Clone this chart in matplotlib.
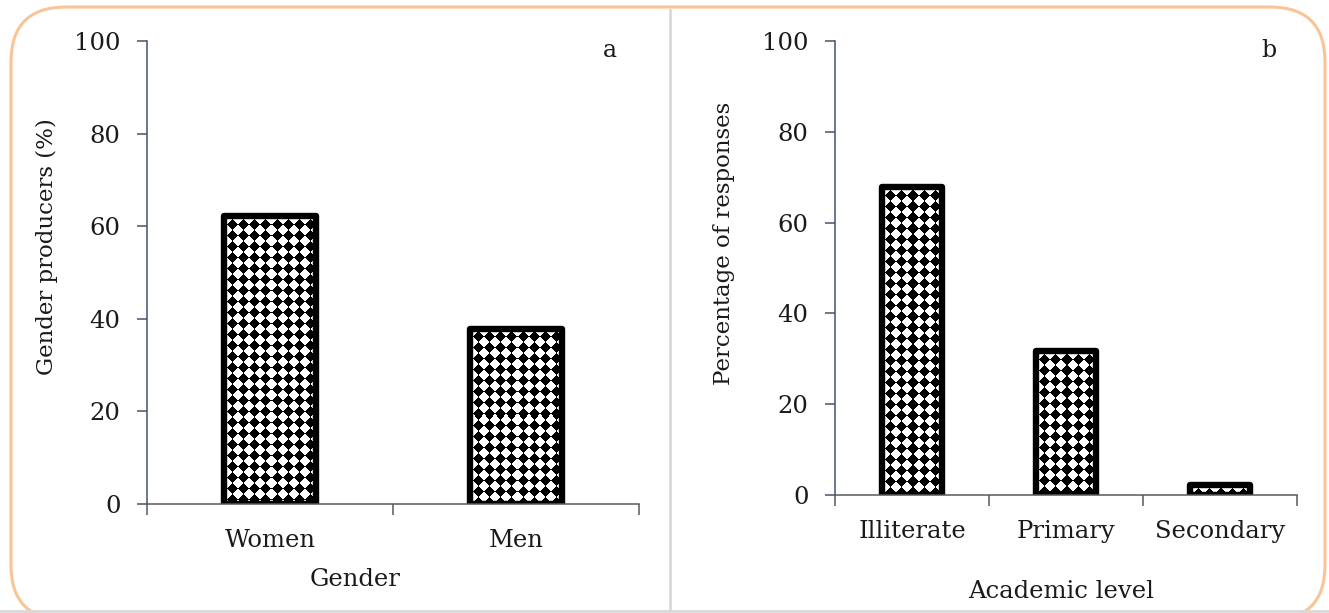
import numpy as np
import matplotlib.pyplot as plt
from matplotlib.patches import FancyBboxPatch
from matplotlib.lines import Line2D
from matplotlib.transforms import IdentityTransform

plt.rcParams['font.family'] = ['DejaVu Serif']

gender = ['Women', 'Men']
gender_pct = [62.2, 37.8]
level = ['Illiterate', 'Primary', 'Secondary']
level_pct = [67.8, 31.7, 2.2]

W, H = 1329, 613
fig = plt.figure(figsize=(W / 100, H / 100), dpi=100)

# frame around the whole figure (pixel coordinates, origin bottom-left)
frame = FancyBboxPatch((11, H - 620), 1325 - 11, 620 - 7,
                       boxstyle='round,pad=0,rounding_size=55',
                       transform=IdentityTransform(), facecolor='none',
                       edgecolor='#F9C496', lw=2.2, zorder=-1)
fig.patches.append(frame)
fig.lines.append(Line2D([670 / W, 670 / W], [1 - 10 / H, 0], transform=fig.transFigure,
                        color='#D9D9D9', lw=2))
fig.lines.append(Line2D([0, 1], [1 - 611 / H, 1 - 611 / H], transform=fig.transFigure,
                        color='#D9D9D9', lw=2))

ax1 = fig.add_axes([147 / W, 1 - 504 / H, (639 - 147) / W, (504 - 41) / H])
ax2 = fig.add_axes([835 / W, 1 - 495 / H, (1297 - 835) / W, (495 - 41) / H])


def pattern(ax, bar, period=11.0, size=5.3):
    x0, y0 = bar.get_x(), bar.get_y()
    x1, y1 = x0 + bar.get_width(), y0 + bar.get_height()
    (px0, py0), (px1, py1) = ax.transData.transform([(x0, y0), (x1, y1)])
    w = max(int(round(px1 - px0)), 1)
    h = max(int(round(py1 - py0)), 1)
    xx, yy = np.meshgrid(np.arange(w) + 0.5, np.arange(h) + 0.5)
    dx = np.abs((xx - 3) % period - period / 2)
    dy = np.abs((yy - 3) % period - period / 2)
    img = np.where(dx + dy < size, 0.0, 1.0)
    im = ax.imshow(img, cmap='gray', vmin=0, vmax=1, interpolation='nearest',
                   extent=(x0, x1, y0, y1), aspect='auto', zorder=3)
    im.set_clip_path(bar)


def panel(ax, cats, vals, width, ylabel, xlabel, letter, ylab_xy, xlab_xy):
    x = np.arange(len(cats))
    ax.set_xlim(-0.5, len(cats) - 0.5)
    ax.set_ylim(0, 100)
    bars = ax.bar(x, vals, width, color='white', edgecolor='none', zorder=2)
    for b in bars:
        pattern(ax, b)
    ax.bar(x, vals, width, fill=False, edgecolor='black', lw=4.6,
           joinstyle='round', zorder=4)
    ax.set_xlim(-0.5, len(cats) - 0.5)
    ax.set_ylim(0, 100)

    for s in ['top', 'right']:
        ax.spines[s].set_visible(False)
    ax.spines['left'].set_color('#44546A')
    ax.spines['bottom'].set_color('#595959')
    ax.spines['left'].set_linewidth(1.1)
    ax.spines['bottom'].set_linewidth(1.1)
    ax.spines['left'].set_zorder(5)
    ax.spines['bottom'].set_zorder(5)

    ax.set_yticks([0, 20, 40, 60, 80, 100])
    ax.tick_params(axis='y', direction='out', length=7, width=1.1, color='#44546A',
                   labelsize=17.5, pad=12, labelcolor='#1a1a1a')
    ax.set_xticks(x)
    ax.set_xticklabels(cats)
    ax.set_xticks(np.arange(len(cats) + 1) - 0.5, minor=True)
    ax.tick_params(axis='x', which='major', length=0, labelsize=17.5, pad=18,
                   labelcolor='#1a1a1a')
    ax.tick_params(axis='x', which='minor', direction='out', length=8, width=1.1,
                   color='#595959')
    ax.set_ylabel(ylabel, fontsize=16.5, color='#1a1a1a')
    ax.yaxis.set_label_coords(*ylab_xy)
    ax.set_xlabel(xlabel, fontsize=17.5, color='#1a1a1a')
    ax.xaxis.set_label_coords(*xlab_xy)
    ax.text(0.94, 0.98, letter, transform=ax.transAxes, fontsize=17,
            ha='center', va='center', color='#1a1a1a')
    ax.patch.set_alpha(0)


panel(ax1, gender, gender_pct, 0.375, 'Gender producers (%)', 'Gender', 'a',
      (-0.181, 0.555), (0.423, -0.138))
panel(ax2, level, level_pct, 0.39, 'Percentage of responses', 'Academic level', 'b',
      (-0.217, 0.555), (0.49, -0.188))

fig.savefig('out.png', dpi=100)
